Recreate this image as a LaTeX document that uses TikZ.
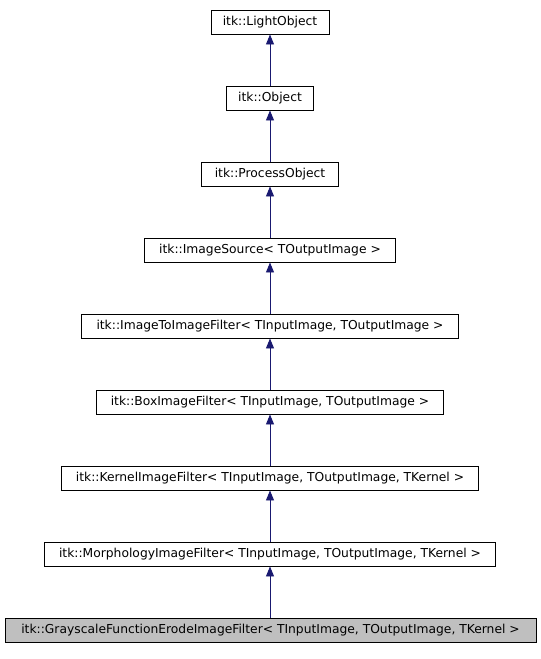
\documentclass[tikz,border=0pt]{standalone}
\usepackage{fontspec}
\setmainfont{DejaVu Sans}
\usetikzlibrary{arrows.meta}
\definecolor{edge}{HTML}{191970}
\begin{document}
\begin{tikzpicture}[x=1pt,y=-1pt,
  cls/.style={draw=black,line width=0.9pt,fill=white,minimum height=24pt,inner sep=0pt,font=\fontsize{12.3}{14}\selectfont},
  inh/.style={draw=edge,line width=0.9pt,-{Triangle[length=10pt,width=8pt]}}]
\useasboundingbox (0,0) rectangle (541,659);
\node[cls,minimum width=118pt] (n1) at (270,22) {itk::LightObject};
\node[cls,minimum width=87pt] (n2) at (270,98) {itk::Object};
\node[cls,minimum width=137pt] (n3) at (270,174) {itk::ProcessObject};
\node[cls,minimum width=251pt] (n4) at (270,250) {itk::ImageSource< TOutputImage >};
\node[cls,minimum width=377pt] (n5) at (270,326) {itk::ImageToImageFilter< TInputImage, TOutputImage >};
\node[cls,minimum width=347pt] (n6) at (270,402) {itk::BoxImageFilter< TInputImage, TOutputImage >};
\node[cls,minimum width=417pt] (n7) at (270,478) {itk::KernelImageFilter< TInputImage, TOutputImage, TKernel >};
\node[cls,minimum width=451pt] (n8) at (270,554) {itk::MorphologyImageFilter< TInputImage, TOutputImage, TKernel >};
\node[cls,minimum width=531pt,fill={rgb,255:red,191;green,191;blue,191}] (n9) at (270.5,630) {itk::GrayscaleFunctionErodeImageFilter< TInputImage, TOutputImage, TKernel >};
\draw[inh] (n2) -- (n1);
\draw[inh] (n3) -- (n2);
\draw[inh] (n4) -- (n3);
\draw[inh] (n5) -- (n4);
\draw[inh] (n6) -- (n5);
\draw[inh] (n7) -- (n6);
\draw[inh] (n8) -- (n7);
\draw[inh] (n9.north -| n8) -- (n8);
\end{tikzpicture}
\end{document}
